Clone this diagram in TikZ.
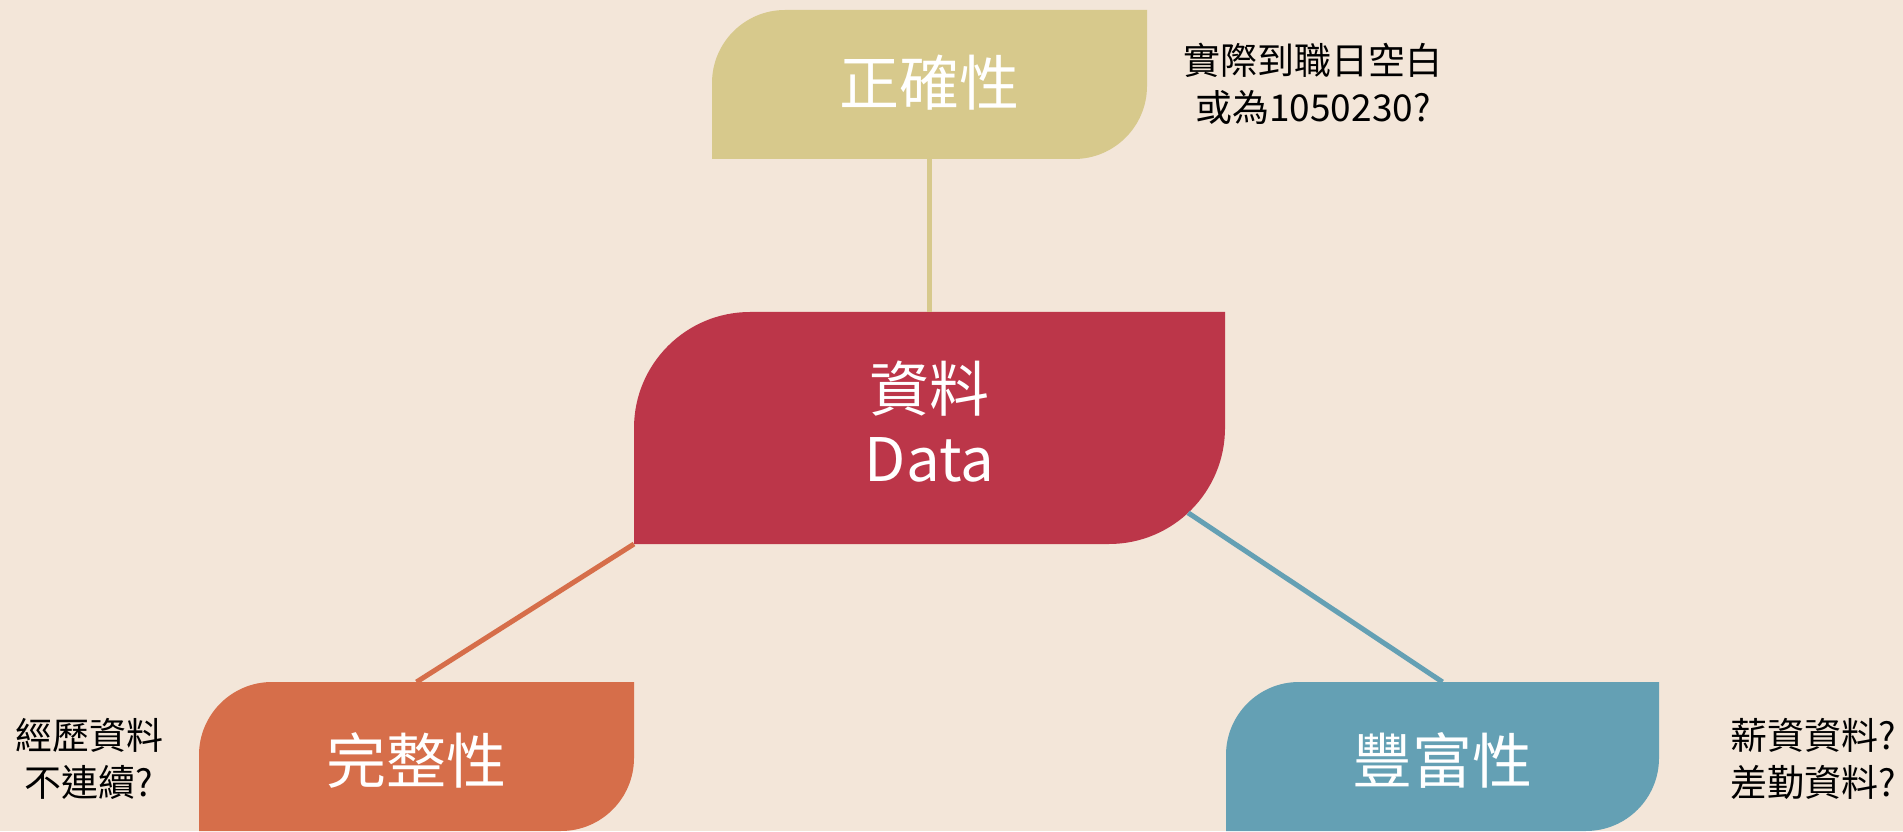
\documentclass[tikz,border=0pt]{standalone}
\usepackage{fontspec}
\setmainfont{Noto Sans CJK TC}
\usetikzlibrary{calc}
\definecolor{bgc}{HTML}{F3E6D9}
\definecolor{topc}{HTML}{D7C98C}
\definecolor{midc}{HTML}{BC3649}
\definecolor{leftc}{HTML}{D66E4A}
\definecolor{rightc}{HTML}{64A0B4}
\tikzset{
  box/.style={inner sep=0pt, outer sep=0pt, text=white, align=center},
  note/.style={inner sep=0pt, text=black, align=center, font=\fontsize{37}{47}\selectfont},
  link/.style={line width=5pt},
}
\newcommand{\leafshape}[3]{% node, radius, colour
  \fill[#3] (#1.south west) -- ([yshift=-#2]#1.north west)
    arc[start angle=180,end angle=90,radius=#2] -- (#1.north east)
    -- ([yshift=#2]#1.south east)
    arc[start angle=0,end angle=-90,radius=#2] -- cycle;}
\begin{document}
\begin{tikzpicture}[x=1pt,y=1pt]
\fill[bgc] (0,0) rectangle (1903,831);
\useasboundingbox (0,0) rectangle (1903,831);
% nodes (y measured upward)
\node[box, minimum width=435pt, minimum height=149pt] (top) at (929.5,746.5) {};
\node[box, minimum width=591pt, minimum height=232pt] (mid) at (929.5,403) {};
\node[box, minimum width=435pt, minimum height=149pt] (bl) at (416.5,74.5) {};
\node[box, minimum width=433pt, minimum height=149pt] (br) at (1442.5,74.5) {};
\leafshape{top}{73pt}{topc}
\leafshape{mid}{116pt}{midc}
\leafshape{bl}{73pt}{leftc}
\leafshape{br}{73pt}{rightc}
\node[box, font=\fontsize{60}{73}\selectfont] at ([yshift=2pt]top.center) {正確性};
\node[box, font=\fontsize{60}{70}\selectfont] at ([yshift=6pt]mid.center) {資料\\Data};
\node[box, font=\fontsize{60}{73}\selectfont] at ([yshift=-4pt]bl.center) {完整性};
\node[box, font=\fontsize{60}{73}\selectfont] at ([yshift=-4pt]br.center) {豐富性};
% connectors
\coordinate (mbr) at ($(mid.south east)+(-116pt,116pt)+(-47:116pt)$);
\draw[link, topc] (top.south) -- (mid.north);
\draw[link, leftc] (mid.south west) -- (bl.north);
\draw[link, rightc] (mbr) -- (br.north);
% notes
\node[note] (n1) at (1313,747) {實際到職日空白\\或為1050230?};
\node[note] (n2) at (89,72) {經歷資料\\不連續?};
\node[note] (n3) at (1813,72) {薪資資料?\\差勤資料?};
\end{tikzpicture}
\end{document}
